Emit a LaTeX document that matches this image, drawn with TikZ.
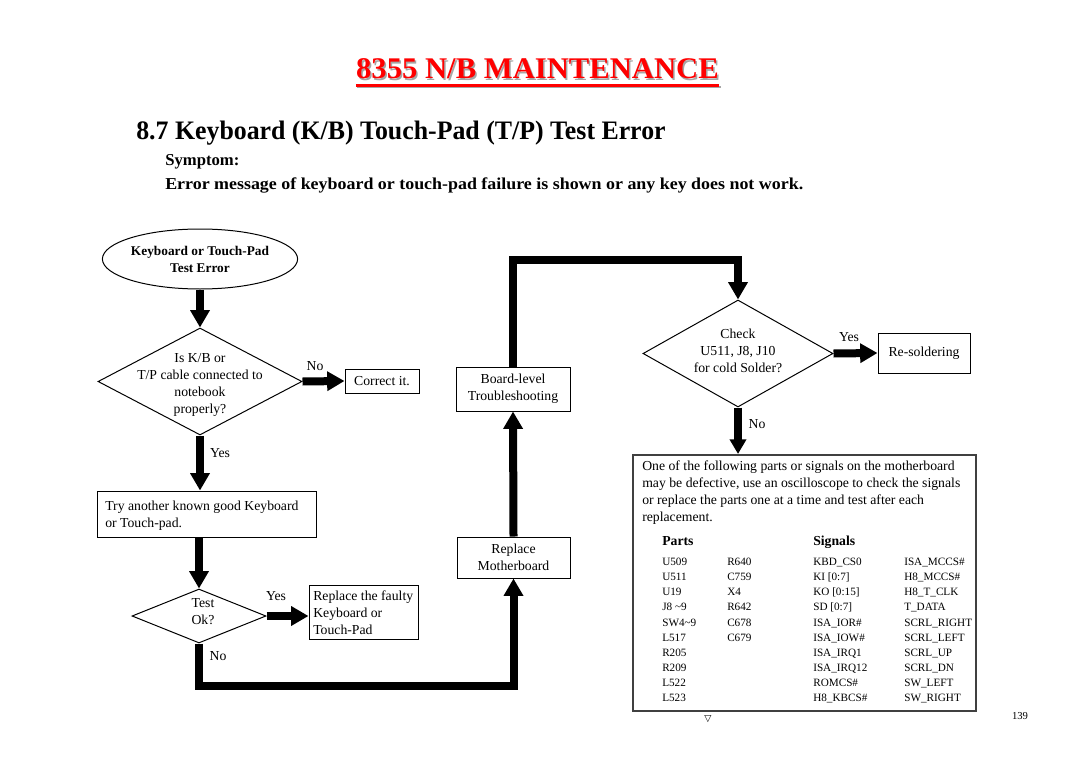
\documentclass[tikz,border=0pt]{standalone}
\usepackage{fontspec}
\usepackage{graphicx}
\setmainfont{Liberation Serif}
\newfontfamily\symfont{DejaVu Sans}
\usetikzlibrary{arrows.meta,shapes.geometric}
\tikzset{
  txt/.style={font=\fontsize{10.3}{12.75}\selectfont, inner sep=0pt},
  box/.style={draw, line width=0.75pt, rectangle, inner sep=0pt, font=\fontsize{10.3}{12.75}\selectfont},
  dia/.style={draw, line width=0.75pt, diamond, inner sep=0pt},
  flow/.style={line width=6pt, -{Triangle[width=14pt,length=13pt]}},
  tab/.style={font=\fontsize{8.4}{10}\selectfont, inner sep=0pt, anchor=base west},
}
\begin{document}
\begin{tikzpicture}[x=0.75pt,y=-0.75pt]
\useasboundingbox (0,0) rectangle (1080,763);
% headers
\node[font=\bfseries\fontsize{22.5}{27}\selectfont, text=black!35, anchor=base, inner sep=0pt] (titlesh) at (539,80.5) {\resizebox{272pt}{\height}{8355 N/B MAINTENANCE}};
\draw[black!35, line width=1.8pt] ([yshift=-5pt]titlesh.base west) -- ([yshift=-5pt]titlesh.base east);
\node[font=\bfseries\fontsize{22.5}{27}\selectfont, text=red, anchor=base, inner sep=0pt] (title) at (537.5,79) {\resizebox{272pt}{\height}{8355 N/B MAINTENANCE}};
\draw[red, line width=1.8pt] ([yshift=-5pt]title.base west) -- ([yshift=-5pt]title.base east);
\node[font=\bfseries\fontsize{20}{24}\selectfont, anchor=base west, inner sep=0pt] (sub) at (136,140) {\resizebox{397pt}{\height}{8.7 Keyboard (K/B) Touch-Pad (T/P) Test Error}};
\node[font=\bfseries\fontsize{12.5}{15}\selectfont, anchor=base west, inner sep=0pt] (symp) at (165,166) {Symptom:};
\node[font=\bfseries\fontsize{12.5}{15}\selectfont, anchor=base west, inner sep=0pt] (err) at (165,189) {\resizebox{478.5pt}{\height}{Error message of keyboard or touch-pad failure is shown or any key does not work.}};

% shapes
\node[draw, line width=0.75pt, ellipse, minimum width=138pt, minimum height=45pt, inner sep=0pt,
      font=\bfseries\fontsize{10}{12.75}\selectfont, align=center] (start) at (200,259) {Keyboard or Touch-Pad\\Test Error};
\node[dia, minimum width=153pt, minimum height=80.25pt] (d1) at (200,381.5) {};
\node[txt, align=center] (d1t) at (200,385) {Is K/B or\\T/P cable connected to\\notebook\\properly?};
\node[box, minimum width=55.5pt, minimum height=18pt] (correct) at (382,381) {Correct it.};
\node[box, minimum width=164.25pt, minimum height=34.5pt] (try) at (206.5,514) {};
\node[txt, align=left, anchor=west] (tryt) at (105,516) {Try another known good Keyboard\\or Touch-pad.};
\node[dia, minimum width=100.5pt, minimum height=40.5pt] (d2) at (199,616) {};
\node[txt, align=center] (d2t) at (203,612) {Test\\Ok?};
\node[box, minimum width=81.75pt, minimum height=40.5pt] (faulty) at (363.5,612) {};
\node[txt, align=left, anchor=west] (faultyt) at (313,613) {Replace the faulty\\Keyboard or\\Touch-Pad};
\node[box, minimum width=84.75pt, minimum height=30.75pt, align=center] (rmb) at (513.5,557.5) {Replace\\Motherboard};
\node[box, minimum width=85.5pt, minimum height=33pt, align=center] (bl) at (513,389) {Board-level\\Troubleshooting};
\node[dia, minimum width=142.5pt, minimum height=80.25pt] (d3) at (738,353.5) {};
\node[txt, align=center] (d3t) at (738,351) {Check\\U511, J8, J10\\for cold Solder?};
\node[box, minimum width=69pt, minimum height=30pt] (resold) at (924,353) {Re-soldering};
\node[draw=black!75, line width=1.5pt, rectangle, minimum width=257.25pt, minimum height=192pt, inner sep=0pt] (big) at (804.5,583) {};

% connectors
\coordinate (c1) at (513.5,686);
\coordinate (c2) at (513,260);
\coordinate (c3) at (738,260);
\draw[flow] (start.south) -- (d1.north);
\draw[flow] (d1.east) -- (correct.west);
\draw[flow] (d1.south) -- (d1.south |- try.north);
\draw[flow] (try.south -| d2.north) -- (d2.north);
\draw[flow] (d2.east) -- (d2.east -| faulty.west);
\draw[flow] (d2.south) |- (c1) -- (rmb.south);
\draw[flow] (rmb.north) -- (bl.south);
\draw[flow] (bl.north) -- (c2) -- (c3) -- (d3.north);
\draw[flow] (d3.east) -- (resold.west);
\draw[line width=5.5pt, -{Triangle[width=12pt,length=11pt]}] (d3.south) -- (big.north -| d3.south);

% labels
\node[txt] (no1) at (315,366) {No};
\node[txt] (yes1) at (220,453) {Yes};
\node[txt] (yes2) at (276,596) {Yes};
\node[txt] (no2) at (218,656) {No};
\node[txt] (yes3) at (849,337) {Yes};
\node[txt] (no3) at (757,424) {No};

% big box text
\node[txt, align=left, anchor=north west] (para) at (642,461) {One of the following parts or signals on the motherboard\\may be defective, use an oscilloscope to check the signals\\or replace the parts one at a time and test after each\\replacement.};
\node[txt, font=\bfseries\fontsize{10.3}{12.75}\selectfont, anchor=base west] (parts) at (662,545) {Parts};
\node[txt, font=\bfseries\fontsize{10.3}{12.75}\selectfont, anchor=base west] (signals) at (813,545) {Signals};
\foreach \a/\b/\c/\d [count=\i] in {
  U509/R640/KBD\_CS0/ISA\_MCCS\#,
  U511/C759/KI [0:7]/H8\_MCCS\#,
  U19/X4/KO [0:15]/H8\_T\_CLK,
  J8 \textasciitilde9/R642/SD [0:7]/T\_DATA,
  SW4\textasciitilde9/C678/ISA\_IOR\#/SCRL\_RIGHT,
  L517/C679/ISA\_IOW\#/SCRL\_LEFT,
  R205//ISA\_IRQ1/SCRL\_UP,
  R209//ISA\_IRQ12/SCRL\_DN,
  L522//ROMCS\#/SW\_LEFT,
  L523//H8\_KBCS\#/SW\_RIGHT}{
  \pgfmathsetmacro\yy{565.5+(\i-1)*15.15}
  \node[tab] (pa\i) at (662,\yy) {\a};
  \node[tab] (pb\i) at (727,\yy) {\b};
  \node[tab] (sa\i) at (813,\yy) {\c};
  \node[tab] (sb\i) at (904,\yy) {\d};
}
\node[font=\symfont\fontsize{7}{8}\selectfont, inner sep=0pt] (tri) at (708,719) {▽};
\node[font=\fontsize{8}{10}\selectfont, inner sep=0pt] (page) at (1020,716) {139};
\end{tikzpicture}
\end{document}
